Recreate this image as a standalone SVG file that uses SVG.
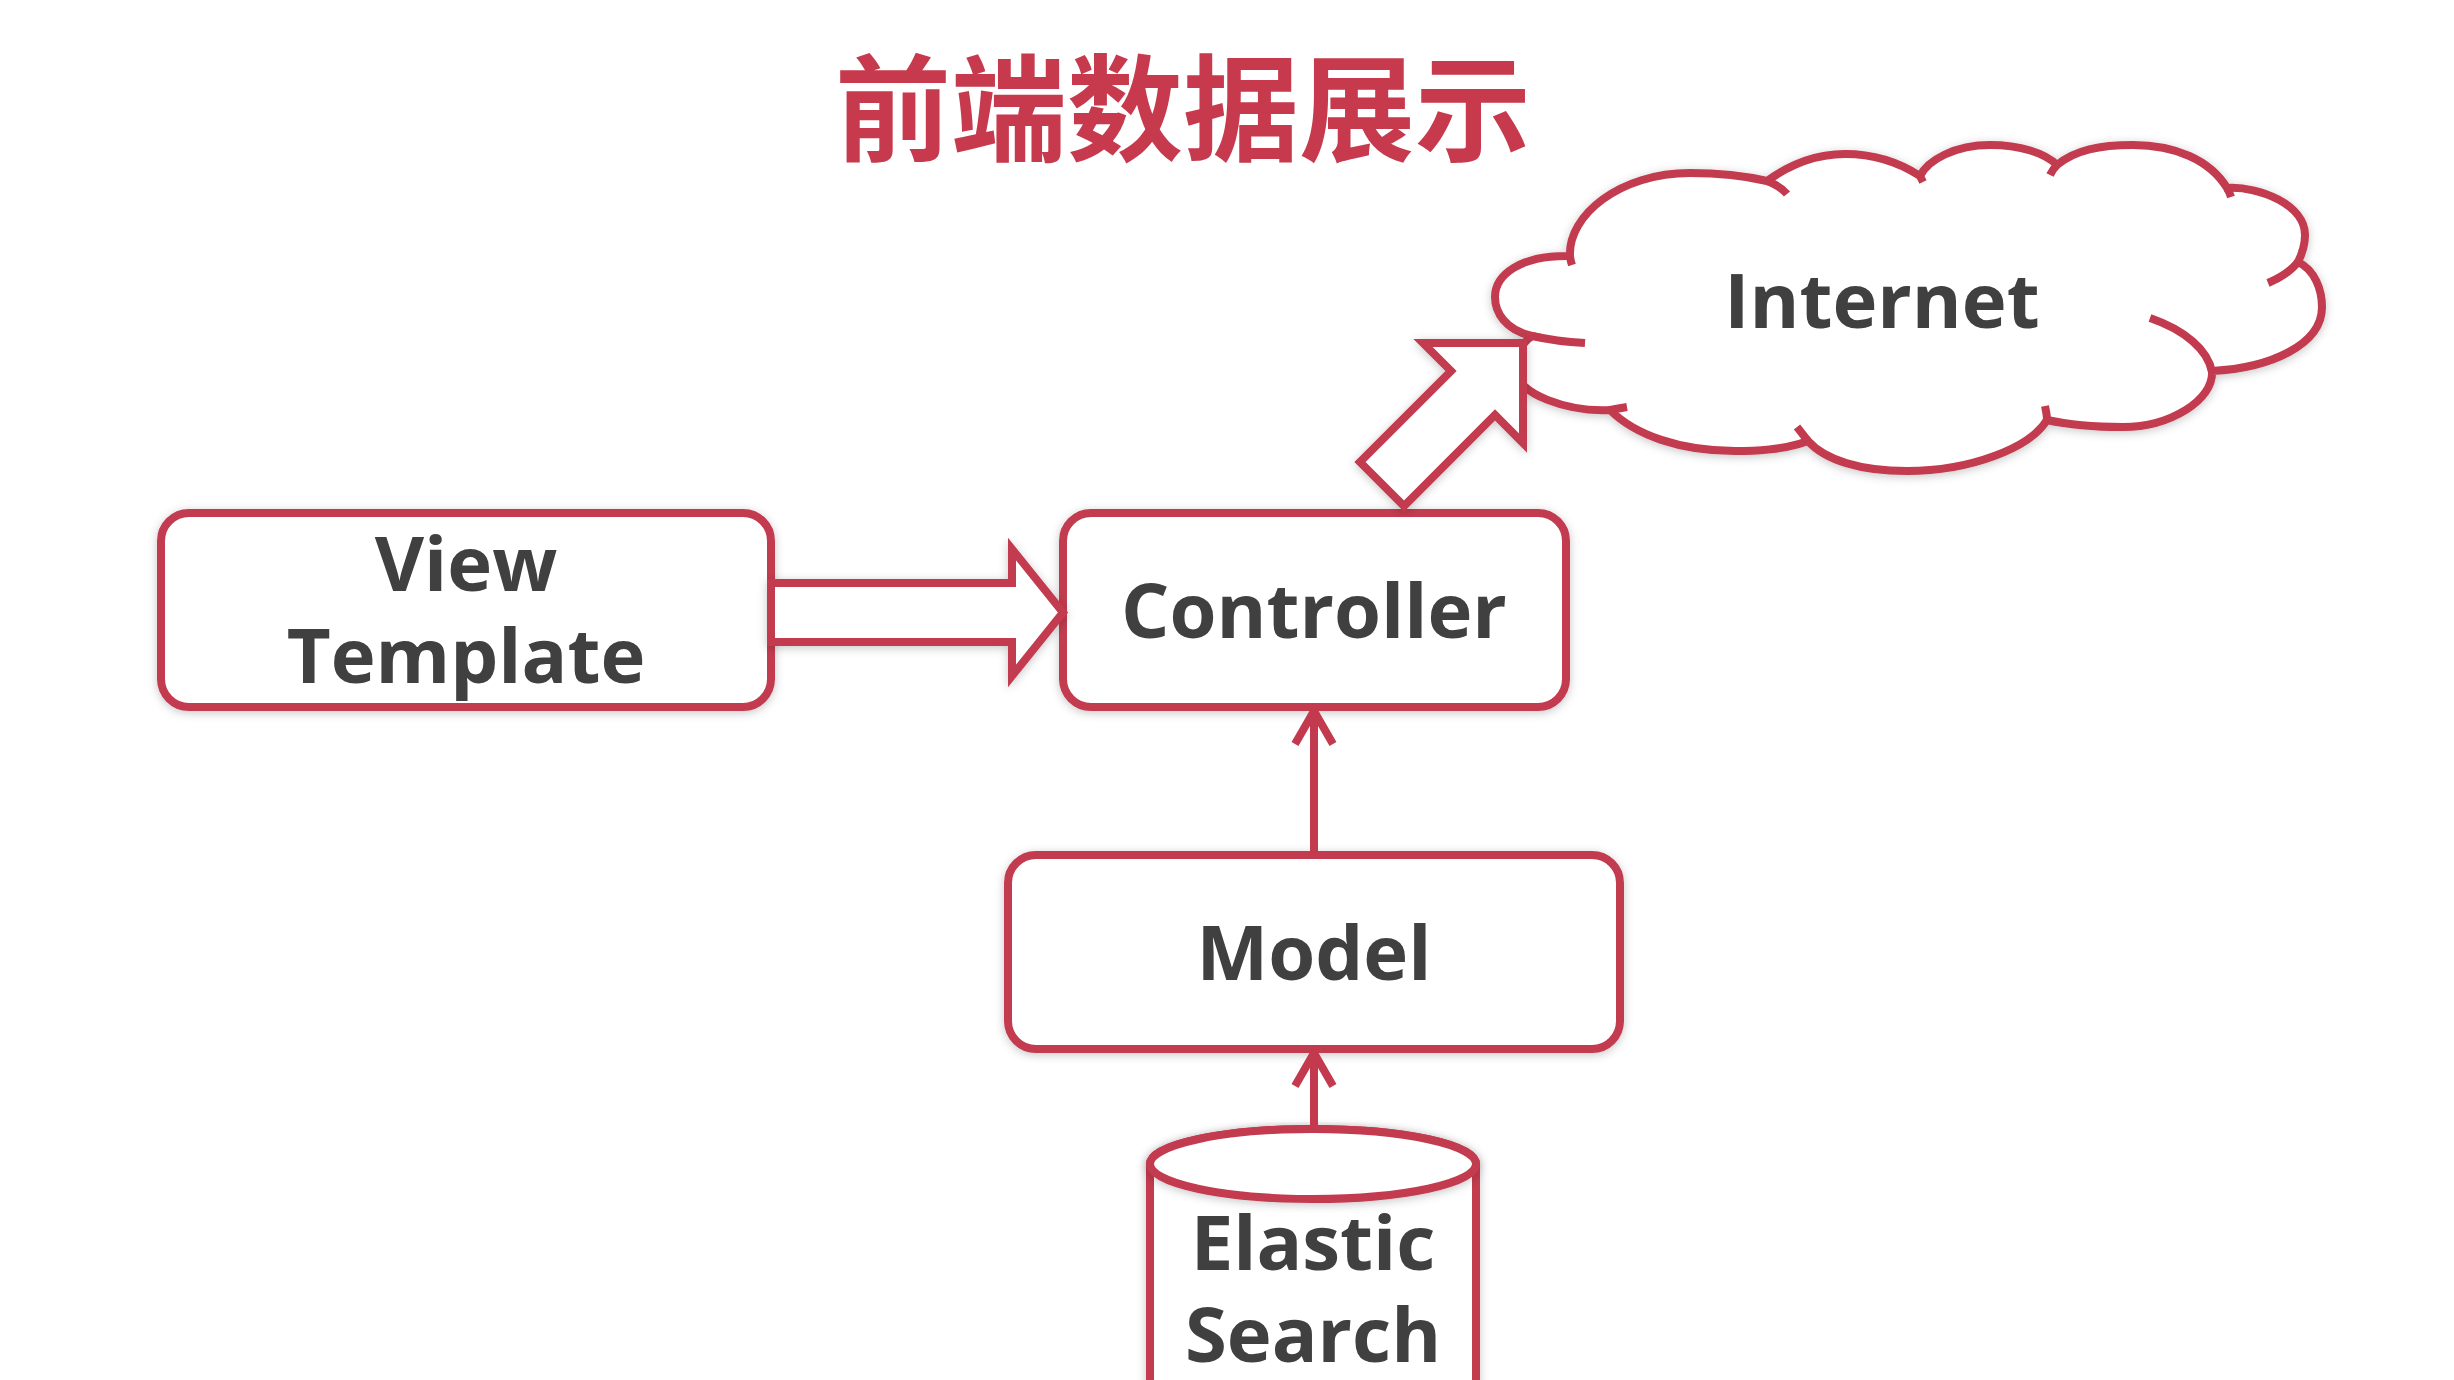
<svg xmlns="http://www.w3.org/2000/svg" width="2454" height="1380" viewBox="0 0 2454 1380">
  <style>
    .shape { fill: #ffffff; stroke: #c33a4f; stroke-width: 8; stroke-linejoin: miter; filter: url(#shadow); }
    .tail { fill: none; stroke: #c33a4f; stroke-width: 8; stroke-linecap: butt; }
    .label { font-family: "Open Sans", "Noto Sans", "Liberation Sans", sans-serif; font-weight: 700; font-size: 76px; fill: #404040; text-anchor: middle; }
    .title { font-family: "Noto Sans CJK SC", "Noto Sans CJK JP", sans-serif; font-weight: 700; font-size: 116px; fill: #c73a4d; text-anchor: middle; }
    .conn { fill: none; stroke: #c33a4f; stroke-width: 8; }
  </style>
  <defs>
    <filter id="shadow" x="-10%" y="-10%" width="120%" height="130%">
      <feDropShadow dx="0" dy="2" stdDeviation="5" flood-color="#000000" flood-opacity="0.22"/>
    </filter>
    <marker id="chev" markerUnits="userSpaceOnUse" markerWidth="60" markerHeight="60" viewBox="-45 -30 60 60" refX="0" refY="0" orient="auto" overflow="visible">
      <path d="M-33,-19 L0,0 L-33,19" fill="none" stroke="#c33a4f" stroke-width="8" stroke-linejoin="miter"/>
    </marker>
  </defs>
  <rect width="2454" height="1380" fill="#ffffff"/>

  <text class="title" x="1183" y="152">前端数据展示</text>

  <g id="internet">
    <path class="shape" d="M1532,336 C1505,330 1495,312 1495,297 C1495,275 1520,255 1570,256 C1568,215 1620,173 1690,173 C1725,173 1750,177 1767,181 C1785,168 1810,154 1845,154 C1875,154 1900,163 1920,176 C1928,160 1955,145 1990,145 C2020,145 2045,153 2057,165 C2075,150 2100,145 2133,145 C2175,145 2210,160 2227,188 C2260,186 2305,205 2305,235 C2305,245 2302,254 2298,262 C2315,270 2322,290 2322,307 C2322,345 2270,368 2212,371 C2214,400 2170,427 2123,427 C2095,427 2065,424 2047,420 C2030,448 1970,471 1907,471 C1860,471 1825,460 1808,441 C1790,448 1765,451 1735,451 C1680,451 1635,435 1610,410 C1570,412 1515,395 1515,368 C1515,355 1522,343 1532,336 Z"/>
    <path class="tail" d="M1532,336 C1550,340 1567,342 1585,343 M1570,256 C1570,259 1571,262 1572,265 M1767,181 C1775,184 1782,188 1787,194 M1920,176 C1921,178 1922,180 1923,182 M2057,165 C2054,168 2052,171 2050,175 M2227,188 C2229,191 2230,194 2231,197 M2298,262 C2290,272 2280,278 2268,283 M2150,318 C2185,330 2208,350 2212,372 M2047,420 C2047,415 2046,411 2045,406 M1808,441 C1804,436 1801,432 1797,427 M1610,410 C1615,409 1621,408 1627,407"/>
    <text class="label" x="1882" y="328">Internet</text>
  </g>

  <g id="view-template">
    <rect class="shape" x="161" y="513" width="610" height="194" rx="28" ry="28"/>
    <text class="label" x="466" y="591">View</text>
    <text class="label" x="466" y="683">Template</text>
  </g>

  <g id="controller">
    <rect class="shape" x="1063" y="513" width="503" height="194" rx="28" ry="28"/>
    <text class="label" x="1314" y="638">Controller</text>
  </g>

  <g id="model">
    <rect class="shape" x="1008" y="855" width="612" height="194" rx="28" ry="28"/>
    <text class="label" x="1314" y="980">Model</text>
  </g>

  <g id="elasticsearch">
    <path class="shape" d="M1150,1410 V1164 A163,35 0 0 1 1476,1164 V1410"/>
    <ellipse class="shape" cx="1313" cy="1164" rx="163" ry="35"/>
    <text class="label" x="1313" y="1270">Elastic</text>
    <text class="label" x="1313" y="1362">Search</text>
  </g>

  <g id="connectors">
    <polygon class="shape" points="771,583 1012,583 1012,549 1063,612.5 1012,676 1012,642 771,642"/>
    <polygon class="shape" points="1523,343 1523,443 1495,415 1404,506 1360,462 1451,371 1423,343"/>
    <path class="conn" d="M1314,855 V711" marker-end="url(#chev)"/>
    <path class="conn" d="M1314,1129 V1053" marker-end="url(#chev)"/>
  </g>
</svg>
